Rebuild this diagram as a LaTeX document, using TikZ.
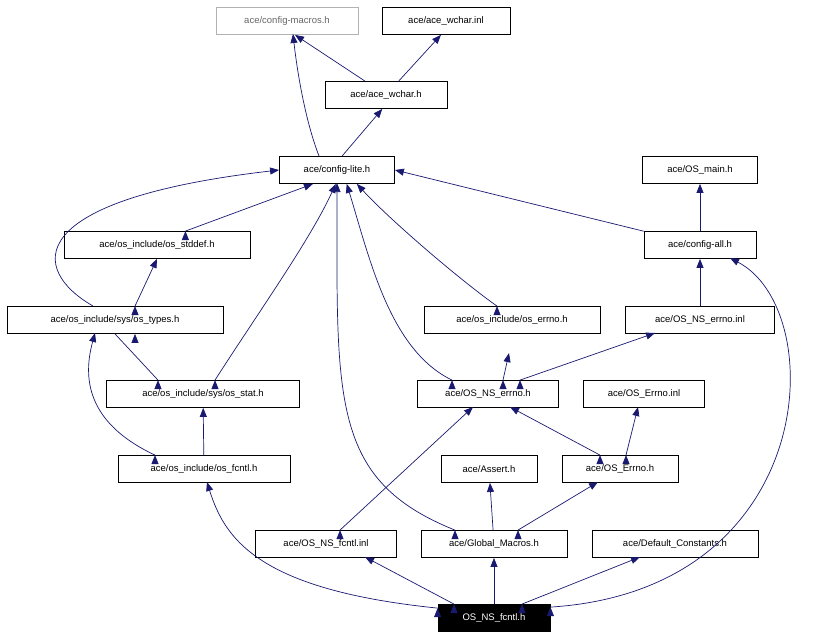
\documentclass[tikz,border=0pt]{standalone}
\usepackage{fontspec}
\setmainfont{Liberation Sans}
\usetikzlibrary{arrows.meta}
\definecolor{ed}{HTML}{191970}
\begin{document}
\begin{tikzpicture}[x=1pt,y=-1pt,
  b/.style={draw=black,line width=0.8pt,minimum height=27pt,inner xsep=5pt,font=\fontsize{9.5}{11}\selectfont},
  e/.style={draw=ed,line width=0.7pt,-{Triangle[length=9pt,width=7pt]}}]
\useasboundingbox (0,0) rectangle (831,637);
\node[b,draw=gray!60,text=gray!80!black,minimum width=142pt] (cm) at (287,21) {ace/config-macros.h};
\node[b,minimum width=128pt] (wi) at (446,21) {ace/ace\_wchar.inl};
\node[b,minimum width=122pt] (wh) at (386,95) {ace/ace\_wchar.h};
\node[b,minimum width=115pt] (cl) at (337,170) {ace/config-lite.h};
\node[b,minimum width=115pt] (om) at (700,170) {ace/OS\_main.h};
\node[b,minimum width=186pt] (sd) at (157,245) {ace/os\_include/os\_stddef.h};
\node[b,minimum width=112pt] (ca) at (700,245) {ace/config-all.h};
\node[b,minimum width=216pt] (ot) at (115,320) {ace/os\_include/sys/os\_types.h};
\node[b,minimum width=176pt] (oe) at (512,320) {ace/os\_include/os\_errno.h};
\node[b,minimum width=149pt] (nei) at (700,320) {ace/OS\_NS\_errno.inl};
\node[b,minimum width=193pt] (os) at (203,394) {ace/os\_include/sys/os\_stat.h};
\node[b,minimum width=141pt] (ne) at (488,394) {ace/OS\_NS\_errno.h};
\node[b,minimum width=121pt] (ei) at (644,394) {ace/OS\_Errno.inl};
\node[b,minimum width=172pt] (of) at (204,469) {ace/os\_include/os\_fcntl.h};
\node[b,minimum width=96pt] (as) at (489,469) {ace/Assert.h};
\node[b,minimum width=116pt] (er) at (620,469) {ace/OS\_Errno.h};
\node[b,minimum width=141pt] (nfi) at (326,544) {ace/OS\_NS\_fcntl.inl};
\node[b,minimum width=146pt] (gm) at (494,544) {ace/Global\_Macros.h};
\node[b,minimum width=166pt] (dc) at (675,544) {ace/Default\_Constants.h};
\node[b,fill=black,text=white,minimum width=112pt] (nf) at (494,618) {OS\_NS\_fcntl.h};
\coordinate (p1) at (319,156); \coordinate (p1e) at (293,34);
\draw[e] (wh) -- (cm.-60);
\draw[e] (wh) -- (wi.-110);
\draw[e] (p1) .. controls (305,120) and (297,70) .. (p1e);
\draw[e] (cl.70) -- (wh.-105);
\draw[e] (ca) -- (cl.east);
\draw[e] (ca) -- (om);
\draw[e] (sd.north east) ++(-65,0) coordinate (q) ; \draw[e] (q) -- (cl.-150);
\coordinate (t1) at (93,306);
\draw[e] (t1) .. controls (30,270) and (20,200) .. (cl.west);
\draw[e] (ot.north) ++(20,0) coordinate (t2); \draw[e] (t2) -- (sd.south);
\draw[e] (oe.north) ++(-15,0) coordinate (t3);
\draw[e] (t3) .. controls (460,280) and (390,220) .. (cl.-35);
\draw[e] (nei) -- (ca);
\draw[e] (os.north) ++(12,0) coordinate (t4);
\draw[e] (t4) .. controls (260,310) and (310,240) .. (cl.-95);
\draw[e] (os.north) ++(-45,0) coordinate (t5); \draw[e] (t5) -- (ot.south) ++(20,0);
\draw[e] (ne.north) ++(-36,0) coordinate (t6);
\draw[e] (t6) .. controls (390,350) and (370,260) .. (cl.-55);
\draw[e] (ne.north) ++(15,0) coordinate (t7); \draw[e] (t7) -- ++(6,-27);
\draw[e] (ne.north) ++(32,0) coordinate (t8); \draw[e] (t8) -- (655,333);
\draw[e] (of.north) ++(-49,0) coordinate (t9);
\draw[e] (t9) .. controls (80,420) and (85,370) .. (95,333);
\draw[e] (of) -- (os);
\draw[e] (er.north) ++(-20,0) coordinate (t10); \draw[e] (t10) -- (510,407);
\draw[e] (er.north) ++(6,0) coordinate (t11); \draw[e] (t11) -- (638,407);
\draw[e] (nfi.north) ++(14,0) coordinate (t12); \draw[e] (t12) -- (473,407);
\draw[e] (gm.north) ++(-39,0) coordinate (t13);
\draw[e] (t13) .. controls (330,480) and (337,400) .. (337,183);
\draw[e] (gm) -- (as);
\draw[e] (gm.north) ++(24,0) coordinate (t14); \draw[e] (t14) -- (598,482);
\draw[e] (nf.north west) ++(0,4) coordinate (t15);
\draw[e] (t15) .. controls (260,590) and (225,540) .. (207,482);
\draw[e] (nf.north) ++(-40,0) coordinate (t16); \draw[e] (t16) -- (365,557);
\draw[e] (nf) -- (gm);
\draw[e] (nf.north) ++(28,0) coordinate (t17); \draw[e] (t17) -- (640,557);
\draw[e] (nf.north east) ++(0,3) coordinate (t18);
\draw[e] (t18) .. controls (820,590) and (830,310) .. (730,258);
\end{tikzpicture}
\end{document}
